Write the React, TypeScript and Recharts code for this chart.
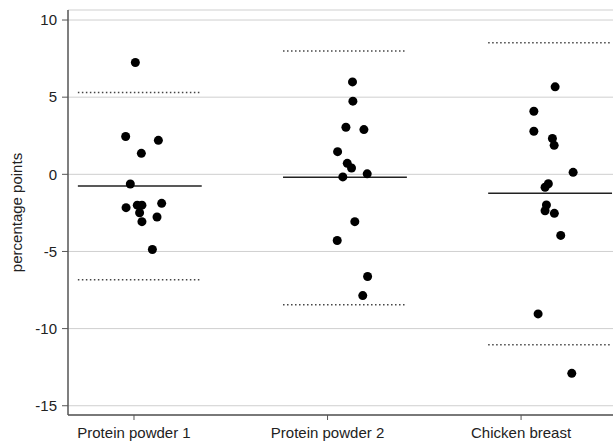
import { ComposedChart, Scatter, Line, XAxis, YAxis, CartesianGrid } from "recharts";

const CATEGORIES = ["Protein powder 1", "Protein powder 2", "Chicken breast"];
const X_TICKS = [1, 2, 3];
const Y_TICKS = [-15, -10, -5, 0, 5, 10];

// jittered x position and value of each dot, per group
const PP1_X = [1.007, 0.957, 1.126, 1.038, 0.981, 0.959, 1.017, 1.041, 1.143, 1.029, 1.041, 1.119, 1.095];
const PP1_Y = [7.25, 2.45, 2.2, 1.36, -0.63, -2.16, -2.0, -2.0, -1.88, -2.49, -3.07, -2.77, -4.87];
const PP2_X = [2.129, 2.131, 2.095, 2.188, 2.052, 2.102, 2.124, 2.079, 2.205, 2.141, 2.05, 2.207, 2.182];
const PP2_Y = [5.99, 4.74, 3.05, 2.9, 1.47, 0.71, 0.41, -0.17, 0.03, -3.07, -4.29, -6.62, -7.86];
const CB_X = [3.176, 3.066, 3.066, 3.162, 3.171, 3.269, 3.141, 3.124, 3.131, 3.124, 3.172, 3.205, 3.088, 3.262];
const CB_Y = [5.67, 4.09, 2.79, 2.32, 1.88, 0.13, -0.61, -0.84, -1.99, -2.36, -2.53, -3.96, -9.05, -12.9];

// mean and limits of agreement per group
const MEANS = [-0.76, -0.19, -1.23];
const UPPER = [5.3, 7.99, 8.53];
const LOWER = [-6.84, -8.46, -11.04];
const LINE_FROM = [0.71, 1.77, 2.83];
const LINE_TO = [1.35, 2.41, 3.47];

const X_DOMAIN = [0.659, 3.475];
const Y_DOMAIN = [-15.6, 10.65];

const font = "'Liberation Sans', Arial, sans-serif";

const toPoints = (xs: number[], ys: number[]) => xs.map((x, i) => ({ x, y: ys[i] }));
const segment = (i: number, values: number[]) => [
  { x: LINE_FROM[i], y: values[i] },
  { x: LINE_TO[i], y: values[i] },
];

const groups = [toPoints(PP1_X, PP1_Y), toPoints(PP2_X, PP2_Y), toPoints(CB_X, CB_Y)];

const Dot = (props: any) => <circle cx={props.cx} cy={props.cy} r={4.5} fill="#000" />;

export default function App() {
  return (
    <div style={{ position: "absolute", left: 0, top: 0 }}>
      <ComposedChart width={616} height={442} margin={{ top: 10, right: 3, bottom: 0, left: 0 }}>
        <CartesianGrid vertical={false} stroke="#cfcfcf" />
        <XAxis
          type="number"
          dataKey="x"
          domain={X_DOMAIN}
          ticks={X_TICKS}
          allowDataOverflow
          height={27}
          tickSize={5}
          tickMargin={7}
          tickFormatter={(v: number) => CATEGORIES[v - 1]}
          tick={{ fill: "#222", fontSize: 15, fontFamily: font }}
          stroke="#555"
          axisLine={{ stroke: "#555", strokeWidth: 1.5 }}
        />
        <XAxis
          xAxisId="top"
          orientation="top"
          type="number"
          domain={X_DOMAIN}
          height={0}
          tick={false}
          tickLine={false}
          axisLine={{ stroke: "#999" }}
        />
        <YAxis
          type="number"
          domain={Y_DOMAIN}
          ticks={Y_TICKS}
          allowDataOverflow
          width={68}
          tickSize={6}
          tickMargin={5}
          tick={{ fill: "#222", fontSize: 15, fontFamily: font }}
          stroke="#555"
          axisLine={{ stroke: "#555", strokeWidth: 1.5 }}
          label={{
            value: "percentage points",
            angle: -90,
            position: "center",
            dx: -17,
            dy: 0,
            style: { fill: "#222", fontSize: 15, fontFamily: font },
          }}
        />
        <YAxis
          yAxisId="right"
          orientation="right"
          type="number"
          domain={Y_DOMAIN}
          width={0}
          tick={false}
          tickLine={false}
          axisLine={{ stroke: "#ccc" }}
        />
        {CATEGORIES.map((c, i) => (
          <Line
            key={"mean" + c}
            data={segment(i, MEANS)}
            dataKey="y"
            stroke="#222"
            strokeWidth={1.6}
            dot={false}
            activeDot={false}
            isAnimationActive={false}
          />
        ))}
        {CATEGORIES.map((c, i) => (
          <Line
            key={"up" + c}
            data={segment(i, UPPER)}
            dataKey="y"
            stroke="#444"
            strokeWidth={1.5}
            strokeDasharray="1.5 2.5"
            dot={false}
            activeDot={false}
            isAnimationActive={false}
          />
        ))}
        {CATEGORIES.map((c, i) => (
          <Line
            key={"low" + c}
            data={segment(i, LOWER)}
            dataKey="y"
            stroke="#444"
            strokeWidth={1.5}
            strokeDasharray="1.5 2.5"
            dot={false}
            activeDot={false}
            isAnimationActive={false}
          />
        ))}
        {groups.map((g, i) => (
          <Scatter key={CATEGORIES[i]} data={g} dataKey="y" shape={Dot} isAnimationActive={false} />
        ))}
      </ComposedChart>
    </div>
  );
}
